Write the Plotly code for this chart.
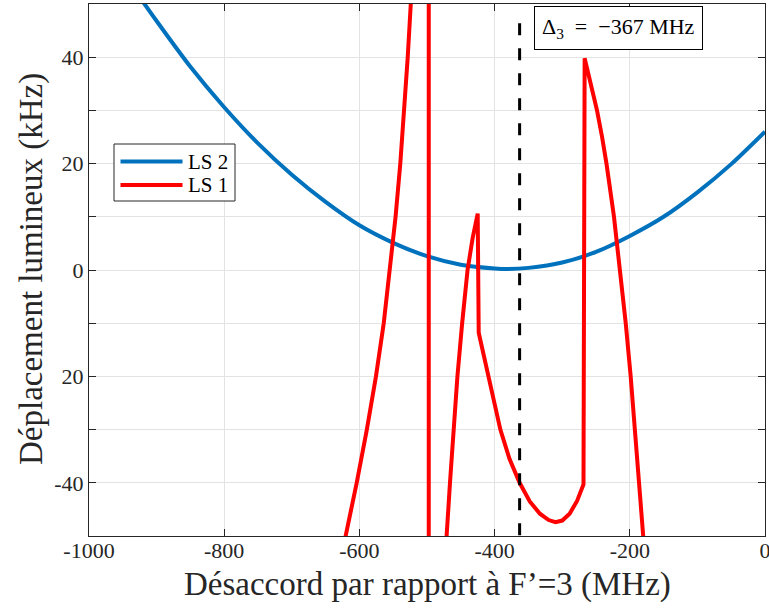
import plotly.graph_objects as go

# ---------------- data ----------------
# LS 2 (blue)
ls2_x = [-940, -900, -850, -800, -750, -700, -650, -600, -550, -500, -450, -400,
         -380, -350, -300, -250, -200, -150, -100, -50, 0]
ls2_y = [54.0, 46.8, 38.2, 30.6, 23.8, 17.9, 12.8, 8.4, 5.1, 2.6, 1.0, 0.3,
         0.2, 0.4, 1.4, 3.4, 6.4, 10.0, 14.6, 19.9, 26.0]

# LS 1 (red) - one polyline with two poles
ls1_x = [-640, -620, -604, -589, -575.5, -564, -555, -546.5, -539.5, -533.5, -528.5,
         -524, -519.5, -512, -505, -500, -497.6,
         -497.2, -494, -485, -478, -471, -466, -460.5, -455, -448, -440, -432.5,
         -425, -423.5, -416, -409, -400, -391.5, -378, -363, -348, -333, -320,
         -310, -300, -289, -278, -268.5,
         -266.8, -258, -248.5, -241, -234.5, -223.4, -214.5, -206, -198.7, -192.3,
         -186, -180, -174]
ls1_y = [-62, -50, -40, -30, -20, -10, 0, 10, 20, 30, 40,
         50, 60, 80, 120, 250, 3000,
         -3000, -300, -100, -70, -50, -40, -30, -20, -10, 0, 6,
         10.6, -11.8, -16.2, -20, -25, -30, -35.5, -40, -43.5, -45.8, -47.0,
         -47.4, -47.1, -45.8, -43.4, -40.3,
         39.8, 35, 30, 25, 20, 10, 0, -10, -20, -30,
         -40, -50, -60]

# Delta_3 marker line
delta3_x = [-363, -363]
delta3_y = [46.4, -50]
delta3_label = "Δ<sub>3</sub>\u2002=\u2002−367\u00a0MHz"

x_tick_vals = [-1000, -800, -600, -400, -200, 0]
x_tick_text = ["-1000", "-800", "-600", "-400", "-200", "0"]
y_tick_vals = [-40, -20, 0, 20, 40]
y_tick_text = ["-40", "20", "0", "20", "40"]
y_minor_vals = [-30, -10, 10, 30]

series_names = ["LS 2", "LS 1"]
series_colors = ["#0072BD", "#FF0000"]

# ---------------- figure ----------------
FONT = "Liberation Serif"
AX = "#262626"
GRID = "#e3e3e3"

# plot area in pixels: x 89..765, y 4..536
L, R, T, B = 89, 765, 4, 536
W, H = R - L, B - T


def px(xp):
    return (xp - L) / W


def py(yp):
    return (B - yp) / H


fig = go.Figure()
fig.add_trace(go.Scatter(x=ls2_x, y=ls2_y, mode="lines", name=series_names[0],
                         showlegend=False,
                         line=dict(color=series_colors[0], width=4, shape="spline", smoothing=0.8)))
fig.add_trace(go.Scatter(x=ls1_x, y=ls1_y, mode="lines", name=series_names[1],
                         showlegend=False,
                         line=dict(color=series_colors[1], width=4)))
fig.add_trace(go.Scatter(x=delta3_x, y=delta3_y, mode="lines", showlegend=False,
                         line=dict(color="black", width=3, dash="12px,13px")))

fig.add_annotation(x=-216.5, y=45.5, xref="x", yref="y", text=delta3_label,
                   showarrow=False, xanchor="center", yanchor="middle",
                   font=dict(family=FONT, size=22, color="black"),
                   bgcolor="white", bordercolor="black", borderwidth=1, borderpad=7)

# legend box drawn manually (MATLAB-style long line samples)
shapes = [dict(type="rect", xref="paper", yref="paper",
               x0=px(114), x1=px(235), y0=py(201), y1=py(144),
               line=dict(color=AX, width=1), fillcolor="white", layer="above")]
for i, (name, col) in enumerate(zip(series_names, series_colors)):
    yy = py(161.5 + 23.5 * i)
    shapes.append(dict(type="line", xref="paper", yref="paper",
                       x0=px(120.5), x1=px(182.5), y0=yy, y1=yy,
                       line=dict(color=col, width=4), layer="above"))
    fig.add_annotation(x=px(186), y=yy, xref="paper", yref="paper", text=name,
                       showarrow=False, xanchor="left", yanchor="middle",
                       font=dict(family=FONT, size=21, color="black"))
fig.update_layout(shapes=shapes)

# axis titles as annotations for exact placement
fig.add_annotation(x=px(427), y=py(584), xref="paper", yref="paper",
                   text="Désaccord par rapport à F’=3 (MHz)", showarrow=False,
                   xanchor="center", yanchor="middle",
                   font=dict(family=FONT, size=33, color=AX))
fig.add_annotation(x=px(31), y=py(269), xref="paper", yref="paper",
                   text="Déplacement lumineux (kHz)", showarrow=False, textangle=-90,
                   xanchor="center", yanchor="middle",
                   font=dict(family=FONT, size=33, color=AX))

axis_common = dict(showline=True, linecolor=AX, linewidth=1, mirror="all",
                   ticks="inside", ticklen=7, tickcolor=AX, tickwidth=1,
                   showgrid=True, gridcolor=GRID, gridwidth=1, zeroline=False,
                   automargin=False, ticklabeloverflow="allow",
                   tickfont=dict(family=FONT, size=22, color=AX))

fig.update_xaxes(range=[-1000, 0], tickmode="array", tickvals=x_tick_vals,
                 ticktext=x_tick_text, ticklabelstandoff=-5, **axis_common)
fig.update_yaxes(range=[-50, 50], tickmode="array", tickvals=y_tick_vals,
                 ticktext=y_tick_text,
                 minor=dict(tickmode="array", tickvals=y_minor_vals, ticks="inside",
                            ticklen=7, tickcolor=AX, showgrid=True, gridcolor=GRID,
                            gridwidth=1),
                 **axis_common)

fig.update_layout(
    width=769, height=613,
    margin=dict(l=L, r=769 - R, t=T, b=613 - B, autoexpand=False),
    paper_bgcolor="white", plot_bgcolor="white",
    showlegend=False,
)

fig.write_html(
    "out.html",
    config={"displayModeBar": False, "staticPlot": True},
    post_script="document.body.style.margin='0px';document.body.style.overflow='hidden';",
)
